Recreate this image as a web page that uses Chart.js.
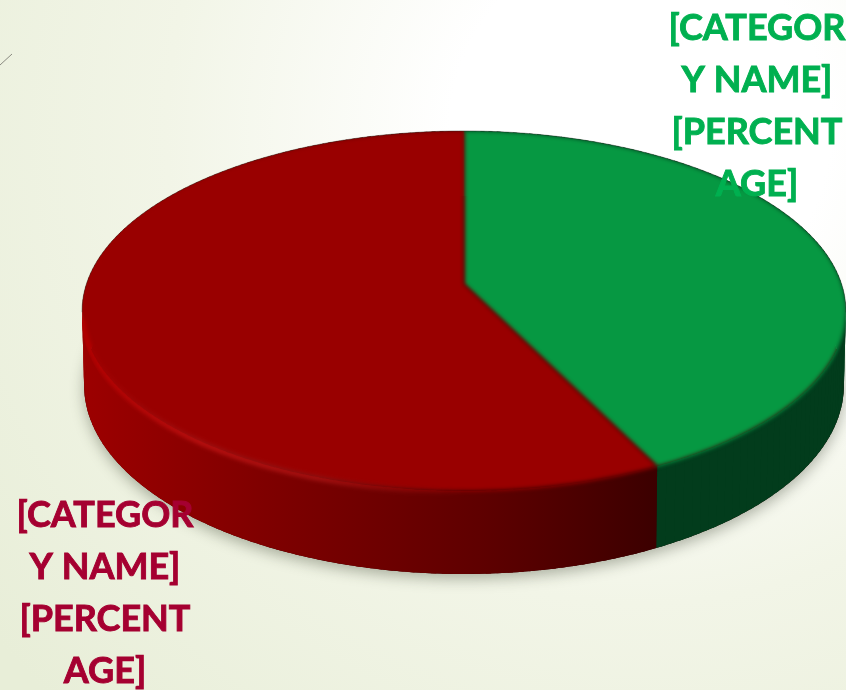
<!DOCTYPE html>
<html>
<head>
<meta charset="utf-8">
<title>Pie</title>
<script src="https://cdn.jsdelivr.net/npm/chart.js@4/dist/chart.umd.min.js"></script>
<style>
  html, body { margin: 0; padding: 0; background: #f4f6ec; overflow: hidden; }
  canvas { display: block; }
</style>
</head>
<body>
<canvas id="pie" width="846" height="690"></canvas>
<script>
  var categories = ['[CATEGORY NAME]', '[CATEGORY NAME]'];
  var shares = [42.7, 57.3];
  var wrappedLabels = [
    ['[CATEGOR', 'Y NAME]', '[PERCENT', 'AGE]'],
    ['[CATEGOR', 'Y NAME]', '[PERCENT', 'AGE]']
  ];

  var faceColors = ['#069842', '#990000'];
  var textColors = ['#00b050', '#a50031'];

  // the disc is seen in perspective: its centre sits above the middle of the ellipse
  var K = 0.15;
  var TOP = { x: 464, y: 284, a: 176, b: 377.6 };
  var BOTTOM = { x: 464, y: 356.7, a: 184.7, b: 375.6 };
  var LABEL_POS = [{ x: 757, y: 40 }, { x: 105, y: 527 }];
  var LINE_H = 52;

  function project(disc, angle, dy) {
    var theta = angle + Math.PI / 2;
    var u = Math.sin(theta), v = -Math.cos(theta);
    var d = 1 - K * v;
    return { x: disc.x + disc.b * u / d, y: disc.y + disc.a * v / d + (dy || 0) };
  }

  function trace(ctx, disc, from, to, first, dy) {
    var n = Math.max(2, Math.ceil(Math.abs(to - from) * 60));
    for (var i = 0; i <= n; i++) {
      var p = project(disc, from + (to - from) * i / n, dy);
      if (first && i === 0) ctx.moveTo(p.x, p.y);
      else ctx.lineTo(p.x, p.y);
    }
  }

  function wallFill(ctx, i) {
    if (i === 0) return '#023c1c';
    var g = ctx.createLinearGradient(85, 0, 655, 0);
    g.addColorStop(0, '#9c0000');
    g.addColorStop(0.35, '#7c0000');
    g.addColorStop(0.7, '#5e0000');
    g.addColorStop(1, '#3c0000');
    return g;
  }

  // overlapping quads so the outline stays straight where the wall turns away
  function drawWall(ctx, arc, fill) {
    var from = arc.startAngle, to = arc.endAngle;
    var n = Math.ceil((to - from) * 40);
    var step = (to - from) / n;
    ctx.fillStyle = fill;
    for (var i = 0; i < n; i++) {
      var a0 = from + step * i;
      var a1 = Math.min(to, a0 + step * 1.5);
      var p0 = project(TOP, a0), p1 = project(TOP, a1);
      var q0 = project(BOTTOM, a0), q1 = project(BOTTOM, a1);
      ctx.beginPath();
      ctx.moveTo(p0.x, p0.y);
      ctx.lineTo(p1.x, p1.y);
      ctx.lineTo(q1.x, q1.y);
      ctx.lineTo(q0.x, q0.y);
      ctx.closePath();
      ctx.fill();
    }
  }

  var pie3d = {
    id: 'pie3d',
    beforeDraw: function(chart) {
      var ctx = chart.ctx;
      var bg = ctx.createRadialGradient(640, 130, 190, 640, 130, 820);
      bg.addColorStop(0, '#ffffff');
      bg.addColorStop(0.45, '#f2f5e7');
      bg.addColorStop(1, '#e8eed8');
      ctx.save();
      ctx.fillStyle = bg;
      ctx.fillRect(0, 0, chart.width, chart.height);
      ctx.strokeStyle = '#8a8a80';
      ctx.lineWidth = 1;
      ctx.beginPath();
      ctx.moveTo(0, 65);
      ctx.lineTo(12, 54);
      ctx.stroke();
      ctx.restore();
    },
    beforeDatasetDraw: function(chart) {
      var ctx = chart.ctx;
      var arcs = chart.getDatasetMeta(0).data;

      ctx.save();
      // soft shadow under the side wall
      ctx.shadowColor = 'rgba(40,50,30,0.35)';
      ctx.shadowBlur = 14;
      ctx.shadowOffsetY = 5;
      ctx.fillStyle = '#300000';
      ctx.beginPath();
      trace(ctx, BOTTOM, 0, Math.PI * 2, true);
      ctx.closePath();
      ctx.fill();
      ctx.restore();

      // side wall
      ctx.save();
      arcs.forEach(function(arc, i) {
        drawWall(ctx, arc, wallFill(ctx, i));
      });
      ctx.restore();

      // top face, blurred only towards the wall so no halo shows on the background
      ctx.save();
      ctx.beginPath();
      trace(ctx, TOP, 0, Math.PI * 2, true);
      ctx.closePath();
      trace(ctx, TOP, 0, Math.PI * 2, true, 9);
      ctx.closePath();
      ctx.clip();
      ctx.filter = 'blur(2px)';
      arcs.forEach(function(arc, i) {
        ctx.fillStyle = faceColors[i];
        ctx.beginPath();
        ctx.moveTo(TOP.x, TOP.y);
        trace(ctx, TOP, arc.startAngle, arc.endAngle, false);
        ctx.closePath();
        ctx.fill();
      });

      // highlight along the front left rim
      var rim = ctx.createLinearGradient(85, 0, 470, 0);
      rim.addColorStop(0, 'rgba(185,0,0,0.9)');
      rim.addColorStop(0.3, 'rgba(195,20,20,0.85)');
      rim.addColorStop(0.6, 'rgba(190,30,30,0.6)');
      rim.addColorStop(1, 'rgba(170,20,20,0)');
      ctx.filter = 'blur(2px)';
      ctx.strokeStyle = rim;
      ctx.lineWidth = 5;
      ctx.beginPath();
      trace(ctx, TOP, Math.PI * 0.5, Math.PI * 0.94, true, 1);
      ctx.stroke();
      ctx.restore();

      // thin dark line on the back edge
      ctx.save();
      ctx.strokeStyle = 'rgba(30,40,30,0.4)';
      ctx.lineWidth = 1;
      ctx.beginPath();
      trace(ctx, TOP, Math.PI * 0.95, Math.PI * 2.05, true);
      ctx.stroke();
      ctx.restore();

      return false;
    },
    afterDraw: function(chart) {
      var ctx = chart.ctx;
      ctx.save();
      ctx.font = 'bold 36px Lato, sans-serif';
      ctx.textAlign = 'center';
      ctx.textBaseline = 'alphabetic';
      ctx.lineWidth = 0.9;
      wrappedLabels.forEach(function(lines, i) {
        ctx.fillStyle = textColors[i];
        ctx.strokeStyle = textColors[i];
        lines.forEach(function(line, j) {
          ctx.fillText(line, LABEL_POS[i].x, LABEL_POS[i].y + j * LINE_H);
          ctx.strokeText(line, LABEL_POS[i].x, LABEL_POS[i].y + j * LINE_H);
        });
      });
      ctx.restore();
    }
  };

  new Chart(document.getElementById('pie'), {
    type: 'pie',
    data: {
      labels: categories,
      datasets: [{ data: shares, backgroundColor: faceColors, borderWidth: 0 }]
    },
    options: {
      responsive: false,
      animation: false,
      plugins: {
        legend: { display: false },
        tooltip: { enabled: false }
      }
    },
    plugins: [pie3d]
  });
</script>
</body>
</html>
